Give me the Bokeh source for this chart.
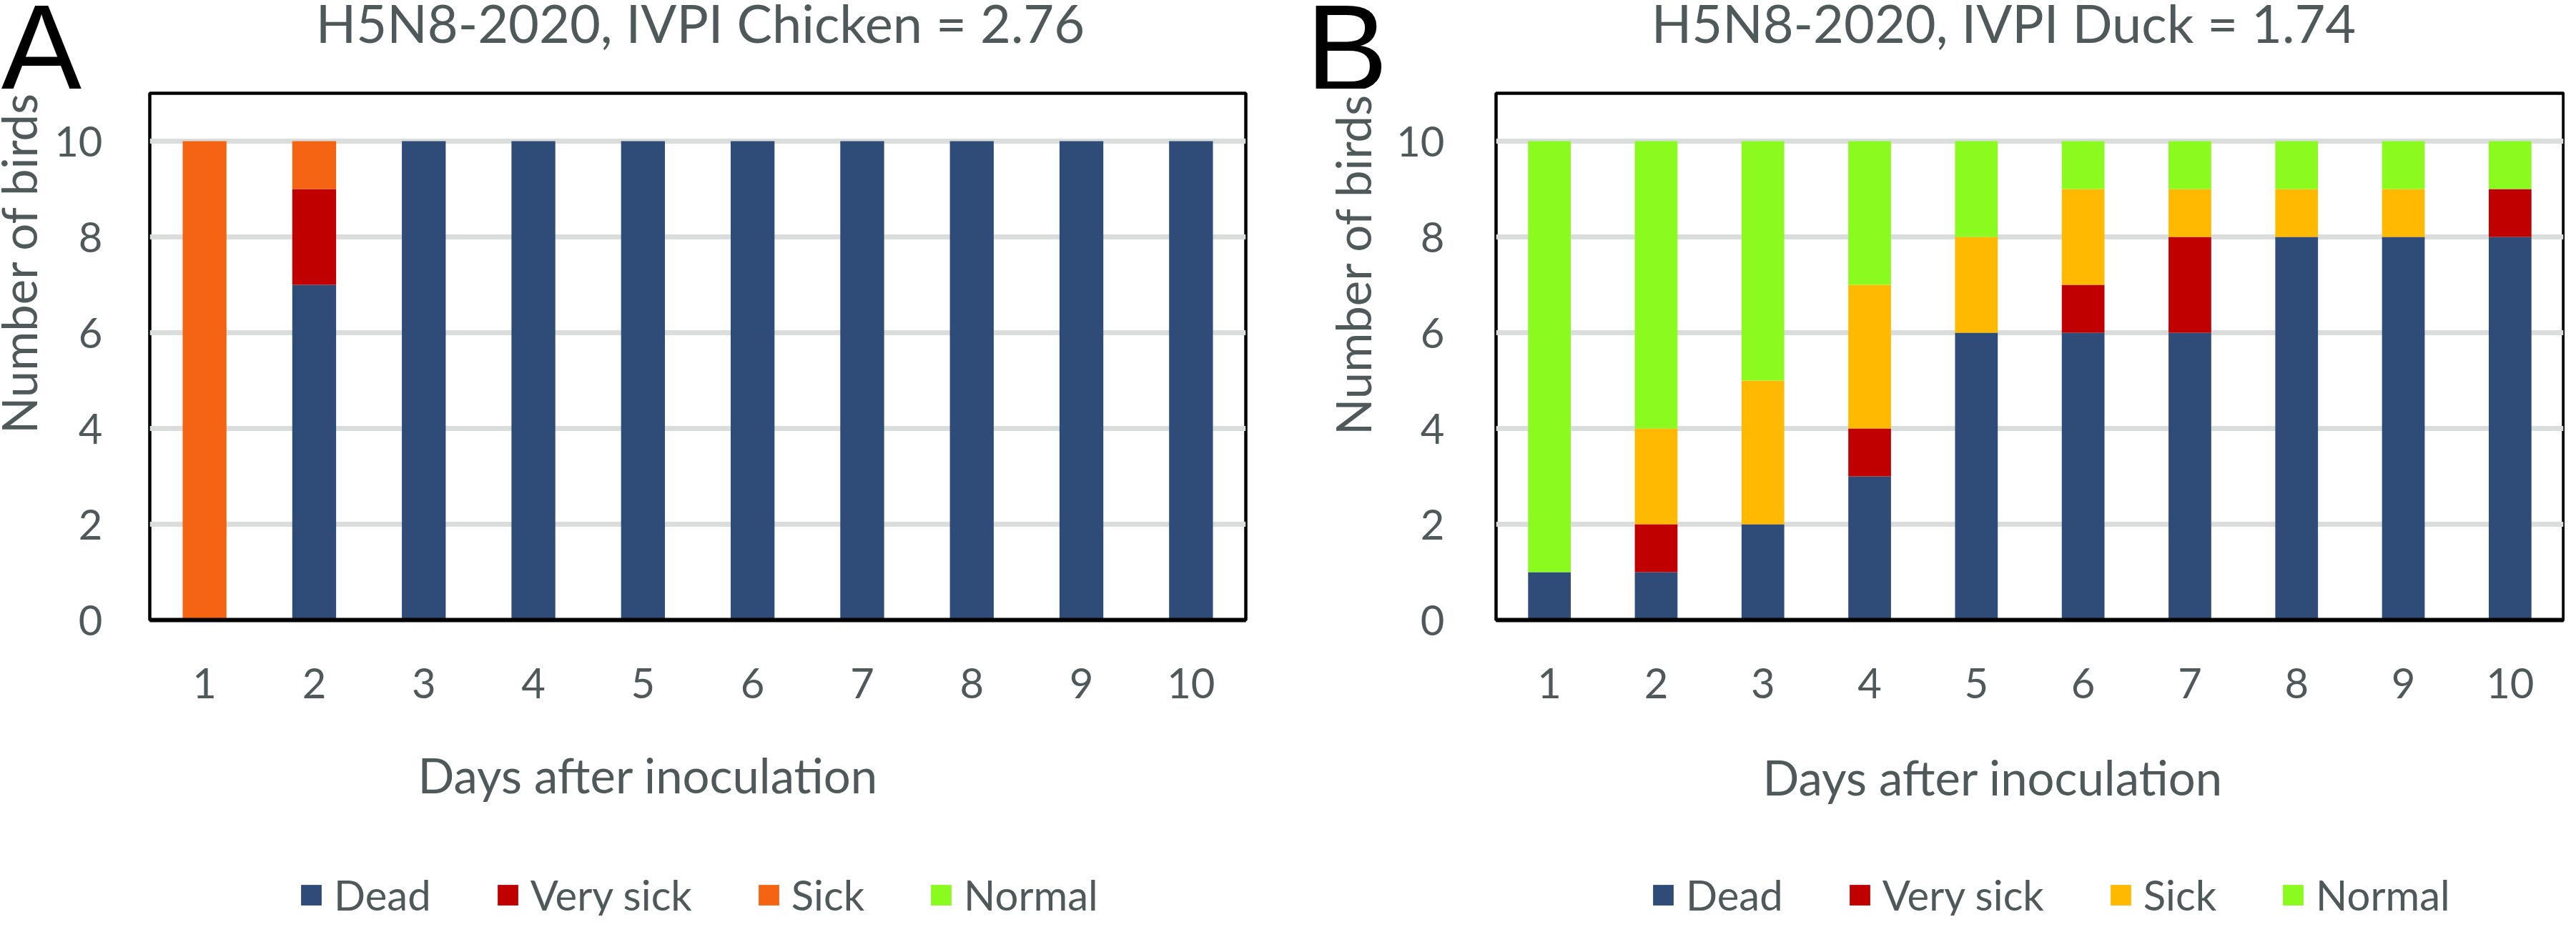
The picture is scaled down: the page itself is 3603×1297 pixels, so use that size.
import math
from bokeh.plotting import figure
from bokeh.models import (ColumnDataSource, Range1d, FixedTicker, Legend,
                          LegendItem, Label)
from bokeh.layouts import row, column
from bokeh.embed import file_html
from bokeh.resources import INLINE

# ---------------- data ----------------
days = [1, 2, 3, 4, 5, 6, 7, 8, 9, 10]
status = ["Dead", "Very sick", "Sick", "Normal"]
y_ticks = [0, 2, 4, 6, 8, 10]

chicken_dead = [0, 7, 10, 10, 10, 10, 10, 10, 10, 10]
chicken_very_sick = [0, 2, 0, 0, 0, 0, 0, 0, 0, 0]
chicken_sick = [10, 1, 0, 0, 0, 0, 0, 0, 0, 0]
chicken_normal = [0, 0, 0, 0, 0, 0, 0, 0, 0, 0]

duck_dead = [1, 1, 2, 3, 6, 6, 6, 8, 8, 8]
duck_very_sick = [0, 1, 0, 1, 0, 1, 2, 0, 0, 1]
duck_sick = [0, 2, 3, 3, 2, 2, 1, 1, 1, 0]
duck_normal = [9, 6, 5, 3, 2, 1, 1, 1, 1, 1]

panel_letters = ["A", "B"]
titles = ["H5N8-2020, IVPI Chicken = 2.76", "H5N8-2020, IVPI Duck = 1.74"]
x_title = "Days after inoculation"
y_title = "Number of birds"

colors_a = ["#2F4B77", "#C00000", "#F56412", "#8BFA1F"]
colors_b = ["#2F4B77", "#C00000", "#FFB900", "#8BFA1F"]

GRAY = "#4F5959"
FONT = "Lato"
LETTER_FONT = "Liberation Sans"
TOTAL_W = 3587
MAIN_H = 873
STACK = ["dead", "very", "sick", "normal"]


def text_figure(width, height, x_range=(0, 1)):
    f = figure(width=width, height=height, x_range=Range1d(*x_range), y_range=Range1d(0, 1),
               min_border=0, min_border_left=0, min_border_right=0,
               min_border_top=0, min_border_bottom=0,
               x_axis_location=None, y_axis_location=None,
               output_backend="svg", toolbar_location=None)
    f.outline_line_color = None
    f.grid.visible = False
    return f


def add_label(f, x, y, text, size, color=GRAY, font=FONT, align="center", angle=0):
    f.add_layout(Label(x=x, y=y, x_units="screen", y_units="screen", text=text,
                       text_font=font, text_font_size=size, text_color=color,
                       text_align=align, text_baseline="alphabetic", angle=angle))


def make_source(dead, very, sick, normal):
    return ColumnDataSource(dict(day=days, dead=dead, very=very, sick=sick, normal=normal))


def make_panel(src, colors, geo):
    p = figure(width=geo["w"], height=MAIN_H,
               min_border_left=geo["bl"], min_border_right=geo["br"],
               min_border_top=geo["bt"], min_border_bottom=geo["bb"],
               x_range=Range1d(0.5, 10.5), y_range=Range1d(0, 11),
               output_backend="svg", toolbar_location=None,
               background_fill_color="white", border_fill_color="white")
    p.vbar_stack(STACK, x="day", width=0.4, color=colors, line_alpha=0, source=src)

    p.outline_line_color = "black"
    p.outline_line_width = 4.5

    p.xgrid.visible = False
    p.ygrid.ticker = FixedTicker(ticks=y_ticks)
    p.ygrid.grid_line_color = "#D9DEDC"
    p.ygrid.grid_line_width = 7

    p.xaxis.ticker = FixedTicker(ticks=days)
    p.xaxis.axis_line_color = "black"
    p.xaxis.axis_line_width = 6
    p.xaxis.major_tick_line_color = None
    p.xaxis.minor_tick_line_color = None
    p.xaxis.major_label_standoff = 61
    p.yaxis.ticker = FixedTicker(ticks=y_ticks)
    p.yaxis.axis_line_color = None
    p.yaxis.major_tick_line_color = None
    p.yaxis.minor_tick_line_color = None
    p.yaxis.major_label_standoff = geo["ystand"]
    for ax in (p.xaxis, p.yaxis):
        ax.major_label_text_font = FONT
        ax.major_label_text_font_size = "58px"
        ax.major_label_text_color = GRAY
    return p


src_a = make_source(chicken_dead, chicken_very_sick, chicken_sick, chicken_normal)
src_b = make_source(duck_dead, duck_very_sick, duck_sick, duck_normal)

geo_a = dict(w=1712, bl=139, br=40, bt=3, bb=130, ystand=60)
geo_b = dict(w=1655, bl=160, br=2, bt=6, bb=130, ystand=66)

pa = make_panel(src_a, colors_a, geo_a)
pb = make_panel(src_b, colors_b, geo_b)

# y axis titles (separate narrow figures to the left of each panel)
ylab_a = text_figure(70, MAIN_H)
add_label(ylab_a, 25, 500, y_title, "67px", angle=math.pi / 2)
ylab_b = text_figure(150, MAIN_H)
add_label(ylab_b, 109, 498, y_title, "67px", angle=math.pi / 2)

# header: panel letters and chart titles
header = text_figure(TOTAL_W, 124)
add_label(header, 0, 58, panel_letters[0], "172px", color="black",
          font=LETTER_FONT, align="left")
add_label(header, 1826, 58, panel_letters[1], "172px", color="black",
          font=LETTER_FONT, align="left")
add_label(header, 979, 93, titles[0], "74px")
add_label(header, 2802, 93, titles[1], "74px")

# footer: x axis titles and legends.  The legend swatches are zero-width
# copies of the same stacked series, so that the legend can sit freely here.
footer = text_figure(TOTAL_W, 284, x_range=(0.5, 10.5))
add_label(footer, 906, 198, x_title, "67px")
add_label(footer, 2787, 195, x_title, "67px")

for src, colors, lx in ((src_a, colors_a, 417), (src_b, colors_b, 2308)):
    proxies = footer.vbar_stack(STACK, x="day", width=0, color=colors,
                                line_alpha=0, fill_alpha=1, source=src)
    leg = Legend(items=[LegendItem(label=s, renderers=[r]) for s, r in zip(status, proxies)],
                 orientation="horizontal", location=(lx, -5),
                 glyph_width=36, glyph_height=36, label_standoff=14, spacing=89,
                 padding=0, margin=0, border_line_alpha=0, background_fill_alpha=0,
                 label_text_font=FONT, label_text_font_size="58px",
                 label_text_color=GRAY)
    footer.add_layout(leg, "center")

layout = column(header, row(ylab_a, pa, ylab_b, pb, spacing=0), footer, spacing=0)
open("out.html", "w").write(file_html(layout, INLINE))
